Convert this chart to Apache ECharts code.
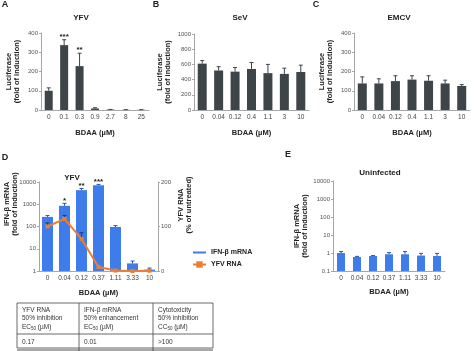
<!DOCTYPE html>
<html>
<head>
<meta charset="utf-8">
<script src="https://cdn.jsdelivr.net/npm/echarts@6/dist/echarts.min.js"></script>
<style>
html,body{margin:0;padding:0;background:#fff}
#main{width:474px;height:351px}
</style>
</head>
<body>
<div id="main"></div>
<script>
// doses
const doseA = ['0', '0.1', '0.3', '0.9', '2.7', '8', '25'];
const doseBC = ['0', '0.04', '0.12', '0.4', '1.1', '3', '10'];
const doseDE = ['0', '0.04', '0.12', '0.37', '1.11', '3.33', '10'];

// A - YFV luciferase
const yfvLuc = [100, 337, 228, 8, 2, 1, 1];
const yfvLucErr = [115, 365, 295, 12, 3, 2, 2];
const yfvLucStars = ['', '***', '**', '', '', '', ''];
// B - SeV luciferase
const sevLuc = [610, 520, 505, 540, 485, 475, 500];
const sevLucErr = [650, 570, 560, 625, 600, 550, 590];
// C - EMCV luciferase
const emcvLuc = [138, 138, 150, 158, 152, 138, 125];
const emcvLucErr = [172, 162, 178, 178, 178, 155, 132];
// D - YFV infected
const ifnYfv = [270, 850, 4300, 7200, 95, 2.2, 1.15];
const ifnYfvErr = [310, 1100, 5100, 7800, 110, 2.8, 1.35];
const ifnYfvStars = ['', '*', '**', '***', '', '', ''];
const yfvRna = [100, 117, 72, 9, 1, 0, 0.5];
const yfvRnaErr = [108, 125, 86, 11, 2, 1, 1.5];
// E - uninfected
const ifnUninf = [1.0, 0.6, 0.68, 0.85, 0.85, 0.72, 0.68];
const ifnUninfErr = [1.2, 0.65, 0.72, 1.05, 1.2, 0.95, 0.95];

// table
const tableHead = [
  ['YFV RNA', '50% inhibition', 'EC{s|50} (µM)'],
  ['IFN-β mRNA', '50% enhancement', 'EC{s|50} (µM)'],
  ['Cytotoxicity', '50% inhibition', 'CC{s|50} (µM)']
];
const tableVals = ['0.17', '0.01', '>100'];

const FONT = 'Liberation Sans';
const GREY = '#3d4548';
const BLUE = '#3f7ceb';
const ORANGE = '#ed7d31';
const NAVY = '#1f3a78';

function xAx(gi, cats, gap) {
  return {
    type: 'category', gridIndex: gi, data: cats,
    axisLine: {lineStyle: {color: '#a6a6a6', width: 1}},
    axisTick: {length: 2, lineStyle: {color: '#a6a6a6'}},
    axisLabel: {fontSize: 6.5, color: '#444', margin: 4, interval: 0, fontFamily: FONT},
    name: 'BDAA (µM)', nameLocation: 'middle', nameGap: gap,
    nameTextStyle: {fontSize: 7.5, fontWeight: 'bold', color: '#222', fontFamily: FONT}
  };
}

function yAx(gi, min, max, interval, name, gap) {
  return {
    type: 'value', gridIndex: gi, min: min, max: max, interval: interval,
    axisLine: {show: true, lineStyle: {color: '#a6a6a6'}},
    axisTick: {show: true, length: 2, lineStyle: {color: '#a6a6a6'}},
    splitLine: {show: false},
    axisLabel: {fontSize: 6, color: '#555', margin: 3, fontFamily: FONT, formatter: v => String(v)},
    name: name, nameLocation: 'middle', nameGap: gap, nameRotate: 90,
    nameTextStyle: {fontSize: 7.5, fontWeight: 'bold', color: '#222', lineHeight: 8, fontFamily: FONT}
  };
}

function logAx(gi, min, max, name, gap) {
  const a = yAx(gi, min, max, null, name, gap);
  a.type = 'log';
  a.logBase = 10;
  delete a.interval;
  return a;
}

function errBars(xi, yi, vals, tops, color, stars) {
  return {
    type: 'custom', xAxisIndex: xi, yAxisIndex: yi, z: 6, silent: true,
    data: vals.map((v, i) => [i, v, tops[i]]),
    renderItem: function (params, api) {
      const i = api.value(0);
      const p0 = api.coord([i, api.value(1)]);
      const p1 = api.coord([i, api.value(2)]);
      const kids = [
        {type: 'line', shape: {x1: p0[0], y1: p0[1], x2: p1[0], y2: p1[1]}, style: {stroke: color, lineWidth: 1}},
        {type: 'line', shape: {x1: p1[0] - 2, y1: p1[1], x2: p1[0] + 2, y2: p1[1]}, style: {stroke: color, lineWidth: 1}}
      ];
      if (stars && stars[i]) {
        kids.push({type: 'text', x: p1[0], y: p1[1] + 1,
          style: {text: stars[i], textAlign: 'center', textVerticalAlign: 'bottom',
            fontSize: 8, fontWeight: 'bold', fill: '#222', fontFamily: FONT}});
      }
      return {type: 'group', children: kids};
    }
  };
}

function bar(name, xi, yi, vals, color, w) {
  return {type: 'bar', name: name, xAxisIndex: xi, yAxisIndex: yi, data: vals,
    barWidth: w, itemStyle: {color: color}, silent: true};
}

// bars on a log axis drawn from the axis minimum
function logBar(name, xi, yi, vals, base, color, w) {
  return {
    type: 'custom', name: name, xAxisIndex: xi, yAxisIndex: yi, z: 3, silent: true,
    data: vals.map((v, i) => [i, v]),
    renderItem: function (params, api) {
      const top = api.coord([api.value(0), api.value(1)]);
      const bot = api.coord([api.value(0), base]);
      return {type: 'rect', shape: {x: top[0] - w / 2, y: top[1], width: w, height: bot[1] - top[1]},
        style: {fill: color}};
    }
  };
}

function txt(x, y, text, size, bold, rot) {
  return {type: 'text', x: x, y: y, rotation: rot || 0, silent: true,
    style: {text: text, fontSize: size, fontWeight: bold ? 'bold' : 'normal', fill: '#222',
      textAlign: 'center', textVerticalAlign: 'middle', fontFamily: FONT, lineHeight: 8}};
}

// table graphics
const tblX = [17, 79, 153, 213];
const tblY = [303, 334, 348];
const tbl = [];
tbl.push({type: 'rect', shape: {x: tblX[0], y: tblY[0], width: tblX[3] - tblX[0], height: tblY[2] - tblY[0]},
  style: {fill: 'none', stroke: '#444', lineWidth: 0.8}});
tbl.push({type: 'rect', shape: {x: tblX[0], y: 348.5, width: tblX[3] - tblX[0], height: 3}, style: {fill: '#a8a8a8'}});
[1, 2].forEach(k => tbl.push({type: 'line', shape: {x1: tblX[k], y1: tblY[0], x2: tblX[k], y2: 351},
  style: {stroke: '#444', lineWidth: 0.8}}));
tbl.push({type: 'line', shape: {x1: tblX[0], y1: tblY[1], x2: tblX[3], y2: tblY[1]}, style: {stroke: '#444', lineWidth: 0.8}});
tableHead.forEach((col, c) => {
  col.forEach((line, r) => {
    tbl.push({type: 'text', x: tblX[c] + 5, y: 310 + r * 8.5, silent: true,
      style: {text: line, fontSize: 6.5, fill: '#333', textVerticalAlign: 'middle', fontFamily: FONT,
        rich: {s: {fontSize: 4.5, fill: '#333', padding: [4, 0, 0, 0], fontFamily: FONT}}}});
  });
  tbl.push({type: 'text', x: tblX[c] + 5, y: 342, silent: true,
    style: {text: tableVals[c], fontSize: 6.5, fill: '#333', textVerticalAlign: 'middle', fontFamily: FONT}});
});

const chart = echarts.init(document.getElementById('main'), null, {renderer: 'canvas'});
chart.setOption({
  animation: false,
  backgroundColor: '#fff',
  textStyle: {fontFamily: FONT},
  grid: [
    {left: 41, top: 33, width: 108, height: 77},
    {left: 194, top: 34, width: 115, height: 76},
    {left: 354, top: 33, width: 116, height: 77},
    {left: 39, top: 182, width: 119, height: 89},
    {left: 333, top: 181, width: 112, height: 90}
  ],
  xAxis: [xAx(0, doseA, 19), xAx(1, doseBC, 19), xAx(2, doseBC, 19), xAx(3, doseDE, 18), xAx(4, doseDE, 17)],
  yAxis: [
    yAx(0, 0, 400, 100, 'Luciferase\n(fold of induction)', 20),
    yAx(1, 0, 1000, 200, 'Luciferase\n(fold of induction)', 22),
    yAx(2, 0, 400, 100, 'Luciferase\n(fold of induction)', 20),
    logAx(3, 1, 10000, '', 0),
    Object.assign(yAx(3, 0, 200, 100, '', 0), {position: 'right'}),
    logAx(4, 0.1, 10000, 'IFN-β mRNA\n(fold of induction)', 17)
  ],
  legend: {
    orient: 'vertical', left: 187, top: 244, itemGap: 5,
    itemWidth: 13, itemHeight: 8,
    textStyle: {fontSize: 7, fontWeight: 'bold', color: '#222', fontFamily: FONT},
    data: [
      {name: 'IFN-β mRNA', icon: 'path://M0,3 L13,3 L13,5 L0,5 Z'},
      {name: 'YFV RNA'}
    ]
  },
  series: [
    bar('yfv', 0, 0, yfvLuc, GREY, 8),
    errBars(0, 0, yfvLuc, yfvLucErr, GREY, yfvLucStars),
    bar('sev', 1, 1, sevLuc, GREY, 9),
    errBars(1, 1, sevLuc, sevLucErr, GREY, null),
    bar('emcv', 2, 2, emcvLuc, GREY, 9),
    errBars(2, 2, emcvLuc, emcvLucErr, GREY, null),
    bar('IFN-β mRNA', 3, 3, ifnYfv, BLUE, 11),
    errBars(3, 3, ifnYfv, ifnYfvErr, '#2a55a8', ifnYfvStars),
    {type: 'line', name: 'YFV RNA', xAxisIndex: 3, yAxisIndex: 4, data: yfvRna, z: 8,
      symbol: 'rect', symbolSize: 4, lineStyle: {color: ORANGE, width: 2},
      itemStyle: {color: ORANGE}, silent: true},
    errBars(3, 4, yfvRna, yfvRnaErr, NAVY, null),
    logBar('uninfected', 4, 5, ifnUninf, 0.1, BLUE, 8),
    errBars(4, 5, ifnUninf, ifnUninfErr, '#2a55a8', null)
  ],
  graphic: [
    txt(5, 5, 'A', 9, true),
    txt(156, 5, 'B', 9, true),
    txt(316, 5, 'C', 9, true),
    txt(5, 158, 'D', 9, true),
    txt(288, 155, 'E', 9, true),
    txt(81, 18, 'YFV', 8, true),
    txt(240, 18, 'SeV', 8, true),
    txt(399, 18, 'EMCV', 8, true),
    txt(72, 178, 'YFV', 8, true),
    txt(380, 173, 'Uninfected', 8, true),
    txt(11, 204, 'IFN-β mRNA\n(fold of induction)', 7.5, true, Math.PI / 2),
    txt(185, 205, 'YFV RNA\n(% of untreated)', 7.5, true, Math.PI / 2)
  ].concat(tbl)
});
</script>
</body>
</html>
